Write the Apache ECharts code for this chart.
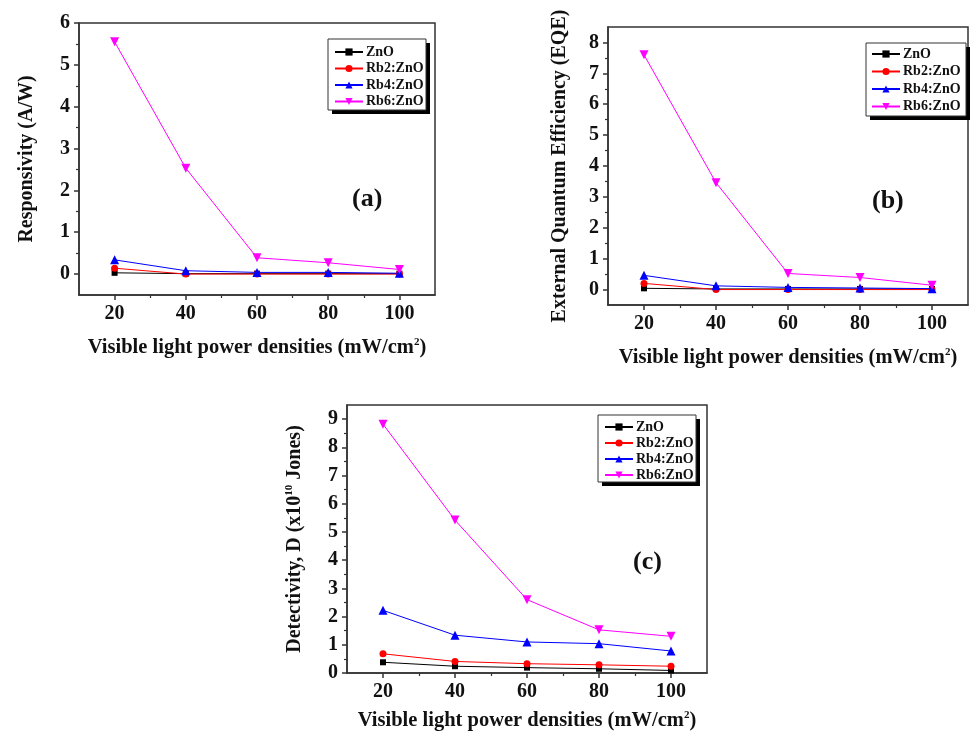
<!DOCTYPE html>
<html>
<head>
<meta charset="utf-8">
<script src="https://cdn.jsdelivr.net/npm/echarts@6/dist/echarts.min.js"></script>
<style>html,body{margin:0;padding:0;background:#fff}#c{width:974px;height:732px}</style>
</head>
<body>
<div id="c"></div>
<script>
// ---- data ----
const xValues = [20, 40, 60, 80, 100];
const seriesNames = ['ZnO', 'Rb2:ZnO', 'Rb4:ZnO', 'Rb6:ZnO'];
// (a) Responsivity (A/W)
const respZnO = [0.03, 0.01, 0.01, 0.01, 0.01];
const respRb2 = [0.14, 0.0, 0.0, 0.0, 0.0];
const respRb4 = [0.34, 0.08, 0.04, 0.04, 0.02];
const respRb6 = [5.55, 2.53, 0.39, 0.27, 0.11];
// (b) EQE
const eqeZnO = [0.04, 0.02, 0.02, 0.02, 0.02];
const eqeRb2 = [0.20, 0.0, 0.0, 0.0, 0.0];
const eqeRb4 = [0.46, 0.12, 0.07, 0.05, 0.03];
const eqeRb6 = [7.60, 3.46, 0.52, 0.39, 0.14];
// (c) Detectivity (x10^10 Jones)
const detZnO = [0.38, 0.24, 0.19, 0.15, 0.09];
const detRb2 = [0.68, 0.41, 0.33, 0.29, 0.24];
const detRb4 = [2.22, 1.34, 1.10, 1.04, 0.78];
const detRb6 = [8.82, 5.42, 2.60, 1.53, 1.30];
// tick labels
const xTickLabels = [20, 40, 60, 80, 100];
const xMinorTicks = [30, 50, 70, 90];
const yTicksA = [0, 1, 2, 3, 4, 5, 6];
const yTicksB = [0, 1, 2, 3, 4, 5, 6, 7, 8];
const yTicksC = [0, 1, 2, 3, 4, 5, 6, 7, 8, 9];

const FONT = '"Liberation Serif","Times New Roman",serif';
const colors = ['#000000', '#ff0000', '#0000ff', '#ff00ff'];
const symbols = ['rect', 'circle', 'triangle', 'path://M0,0L2,0L1,1.732Z'];
const symbolSizes = [6, 7, 9, 9];

const panels = [
  { grid: {left: 79, top: 23, width: 356, height: 272}, ymin: -0.5, ymax: 6, yTicks: yTicksA,
    yName: 'Responsivity (A/W)', yGap: 42, xGap: 42,
    data: [respZnO, respRb2, respRb4, respRb6],
    legend: {left: 334, top: 45, itemGap: 2.5},
    box: {x: 328, y: 39, w: 98, h: 71},
    label: {text: '(a)', x: 352, y: 186} },
  { grid: {left: 608, top: 27, width: 360, height: 278}, ymin: -0.5, ymax: 8.5, yTicks: yTicksB,
    yName: 'External Quantum Efficiency (EQE)', yGap: 38, xGap: 42,
    data: [eqeZnO, eqeRb2, eqeRb4, eqeRb6],
    legend: {left: 871, top: 47, itemGap: 3.5},
    box: {x: 866, y: 43, w: 100, h: 73},
    label: {text: '(b)', x: 872, y: 188} },
  { grid: {left: 347, top: 405, width: 360, height: 268}, ymin: 0, ymax: 9.5, yTicks: yTicksC,
    yName: 'Detectivity, D (x10{sup|10} Jones)', yGap: 42, xGap: 37,
    data: [detZnO, detRb2, detRb4, detRb6],
    legend: {left: 604, top: 420, itemGap: 2},
    box: {x: 598, y: 415, w: 98, h: 67},
    label: {text: '(c)', x: 633, y: 549} }
];

const minorY = (min, max) => { const r = []; for (let v = Math.ceil(min) - 0.5; v < max; v += 1) if (v > min) r.push(v); return r; };

const option = {
  backgroundColor: '#fff',
  animation: false,
  grid: [], xAxis: [], yAxis: [], series: [], legend: [], graphic: []
};

const richSup = { sup: { fontSize: 11, fontWeight: 'bold', fontFamily: FONT, color: '#111', verticalAlign: 'top', padding: [0, 0, 10, 0] } };

panels.forEach((p, i) => {
  option.grid.push(Object.assign({ show: true, borderColor: '#333', borderWidth: 1.5, containLabel: false }, p.grid));
  option.xAxis.push({
    type: 'value', gridIndex: i, min: 10, max: 110, position: 'bottom',
    name: 'Visible light power densities (mW/cm{sup|2})', nameLocation: 'middle', nameGap: p.xGap,
    nameTextStyle: { fontSize: 20.5, fontWeight: 'bold', fontFamily: FONT, color: '#111', rich: richSup },
    axisLine: { show: true, onZero: false, lineStyle: { color: '#333', width: 1.5 } },
    axisTick: { show: true, length: 5, inside: false, customValues: xTickLabels, lineStyle: { color: '#333', width: 1.5 } },
    axisLabel: { customValues: xTickLabels, fontSize: 20, fontWeight: 'bold', fontFamily: FONT, color: '#111', margin: 9 },
    splitLine: { show: false }
  });
  option.xAxis.push({
    type: 'value', gridIndex: i, min: 10, max: 110, position: 'bottom',
    axisLine: { show: false, onZero: false },
    axisTick: { show: true, length: 3, customValues: xMinorTicks, lineStyle: { color: '#333', width: 1.2 } },
    axisLabel: { show: false }, splitLine: { show: false }
  });
  option.yAxis.push({
    type: 'value', gridIndex: i, min: p.ymin, max: p.ymax, position: 'left',
    name: p.yName, nameLocation: 'middle', nameGap: p.yGap,
    nameTextStyle: { fontSize: 20, fontWeight: 'bold', fontFamily: FONT, color: '#111', rich: richSup },
    axisLine: { show: true, onZero: false, lineStyle: { color: '#333', width: 1.5 } },
    axisTick: { show: true, length: 5, customValues: p.yTicks, lineStyle: { color: '#333', width: 1.5 } },
    axisLabel: { customValues: p.yTicks, fontSize: 20, fontWeight: 'bold', fontFamily: FONT, color: '#111', margin: 9 },
    splitLine: { show: false }
  });
  option.yAxis.push({
    type: 'value', gridIndex: i, min: p.ymin, max: p.ymax, position: 'left',
    axisLine: { show: false, onZero: false },
    axisTick: { show: true, length: 3, customValues: minorY(p.ymin, p.ymax), lineStyle: { color: '#333', width: 1.2 } },
    axisLabel: { show: false }, splitLine: { show: false }
  });
  p.data.forEach((arr, k) => {
    option.series.push({
      type: 'line', name: seriesNames[k], xAxisIndex: 2 * i, yAxisIndex: 2 * i,
      data: xValues.map((x, j) => [x, arr[j]]),
      symbol: symbols[k], symbolSize: symbolSizes[k], showSymbol: true,
      itemStyle: { color: colors[k] },
      lineStyle: { color: colors[k], width: 1 },
      z: 2 + k
    });
  });
  // legend frame with drop shadow
  option.graphic.push({
    type: 'rect', silent: true, z: 50,
    shape: { x: p.box.x + 4, y: p.box.y + 4, width: p.box.w, height: p.box.h },
    style: { fill: '#000' }
  });
  option.graphic.push({
    type: 'rect', silent: true, z: 51,
    shape: { x: p.box.x, y: p.box.y, width: p.box.w, height: p.box.h },
    style: { fill: '#fff', stroke: '#333', lineWidth: 1 }
  });
  option.legend.push(Object.assign({
    orient: 'vertical', data: seriesNames, itemWidth: 28, itemHeight: 9, padding: 0, z: 60,
    textStyle: { fontSize: 14, fontWeight: 'bold', fontFamily: FONT, color: '#111', padding: [0, 0, 0, -2] },
    selectedMode: false
  }, p.legend));
  option.graphic.push({
    type: 'text', left: p.label.x, top: p.label.y,
    style: { text: p.label.text, fontSize: 26, fontWeight: 'bold', fontFamily: FONT, fill: '#111' }
  });
});

const chart = echarts.init(document.getElementById('c'), null, { renderer: 'canvas' });
chart.setOption(option);
</script>
</body>
</html>
